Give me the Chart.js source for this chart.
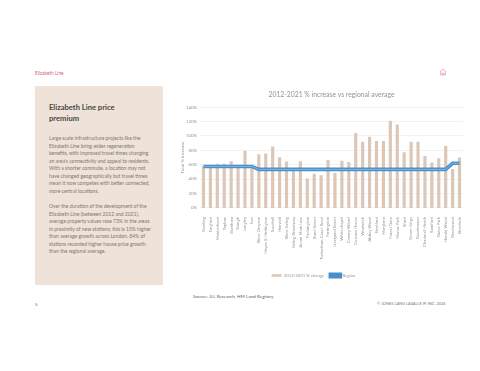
<!DOCTYPE html>
<html><head><meta charset="utf-8">
<script src="https://cdn.jsdelivr.net/npm/chart.js@4/dist/chart.umd.min.js"></script>
<style>
html,body{margin:0;padding:0;background:#fff;width:480px;height:371px;overflow:hidden;font-family:Lato,sans-serif}
#c{position:absolute;left:0;top:0;z-index:2}
.t{position:absolute;white-space:nowrap;color:#6a6a6a}
#panel{position:absolute;left:35px;top:86px;width:128px;height:199px;background:#efe2d8}
#h{left:49px;top:101.5px;font-size:7.6px;line-height:11.6px;font-weight:700;color:#474747}
.b{left:49px;font-size:5px;line-height:7.55px;color:#7d7772}
</style></head><body>
<div id="panel"></div>
<div class="t" style="left:35px;top:70px;font-size:4.7px;color:#e0607a">Elizabeth Line</div>
<div class="t" id="h">Elizabeth Line price<br>premium</div>
<div class="t b" style="top:135px">Large scale infrastructure projects like the<br>Elizabeth Line bring wider regeneration<br>benefits, with improved travel times changing<br>an area's connectivity and appeal to residents.<br>With a shorter commute, a location may not<br>have changed geographically but travel times<br>mean it now competes with better connected,<br>more central locations.</div>
<div class="t b" style="top:203px">Over the duration of the development of the<br>Elizabeth Line (between 2012 and 2021),<br>average property values rose 73% in the areas<br>in proximity of new stations; this is 15% higher<br>than average growth across London. 84% of<br>stations recorded higher house price growth<br>than the regional average.</div>
<div class="t" style="left:193px;top:293.3px;font-size:4.6px;color:#606060">Source: JLL Research, HM Land Registry</div>
<div class="t" style="left:35px;top:300.5px;font-size:4.6px;color:#666">5</div>
<div class="t" style="left:377px;top:301px;font-size:3.95px;color:#777">© JONES LANG LASALLE IP, INC. 2024</div>
<svg style="position:absolute;left:439px;top:68px" width="8" height="8" viewBox="0 0 8 8"><path d="M1 3.6L4 1l3 2.6M1.6 3.2V7h4.8V3.2M3.3 7V5h1.4v2" fill="none" stroke="#e8909f" stroke-width=".7"/></svg>
<canvas id="c" width="480" height="371"></canvas>
<script>
const categories=["Reading","Twyford","Maidenhead","Taplow","Burnham","Slough","Langley","Iver","West Drayton","Hayes & Harlington","Southall","Hanwell","West Ealing","Ealing Broadway","Acton Main Line","Paddington","Bond Street","Tottenham Court Road","Farringdon","Liverpool Street","Whitechapel","Canary Wharf","Custom House","Woolwich","Abbey Wood","Stratford","Maryland","Forest Gate","Manor Park","Ilford","Seven Kings","Goodmayes","Chadwell Heath","Romford","Gidea Park","Harold Wood","Brentwood","Shenfield"];
const changeValues=[58,55,61,61,64.5,59,79,56,74,75,85,70,64,51,64.5,40.5,47,45,66,48,65,63.5,103.5,91.5,98.5,92.5,92.5,120.5,115.5,77,91.5,91.5,71.5,62.5,68.5,85.5,53.5,69.5];
const regionValues=[57.6,57.6,57.6,57.6,57.6,57.6,57.6,57.6,53.5,53.5,53.5,53.5,53.5,53.5,53.5,53.5,53.5,53.5,53.5,53.5,53.5,53.5,53.5,53.5,53.5,53.5,53.5,53.5,53.5,53.5,53.5,53.5,53.5,53.5,53.5,53.5,62,62];
const yTicks=[0,20,40,60,80,100,120,140];
const grey="#969696", font="Lato,sans-serif";
new Chart(document.getElementById("c"),{
 data:{labels:categories,datasets:[
  {type:"line",label:"Region core",data:regionValues,borderColor:"rgba(150,200,235,.75)",borderWidth:.9,pointRadius:0,tension:0,order:0},
  {type:"line",label:"Region",data:regionValues,borderColor:"#4a8fca",backgroundColor:"#4a8fca",borderWidth:3.6,pointRadius:0,tension:0,order:1},
  {type:"bar",label:"2012-2021 % change",data:changeValues,backgroundColor:"#dcc6b6",borderWidth:0,barThickness:2.5,order:2}
 ]},
 options:{responsive:false,animation:false,
  layout:{padding:{left:164,right:17,top:91,bottom:83.3}},
  plugins:{
   title:{display:true,text:"2012-2021 % increase vs regional average",color:"#949494",fullSize:false,font:{family:font,size:6.8,weight:"normal"},padding:{top:0,bottom:8}},
   legend:{position:"bottom",labels:{filter:i=>i.text!=="Region core",sort:(a,b)=>a.text<b.text?-1:1,boxWidth:10,boxHeight:2.4,padding:6,color:grey,font:{family:font,size:4.3}}},
   tooltip:{enabled:false}
  },
  scales:{
   x:{grid:{display:false},border:{display:false},ticks:{autoSkip:false,maxRotation:90,minRotation:90,color:grey,font:{family:font,size:4.3},padding:1},afterFit(a){a.height=59.5}},
   y:{min:0,max:140,afterBuildTicks(a){a.ticks=yTicks.map(v=>({value:v}))},grid:{color:"#ededed",lineWidth:.7,drawTicks:false},border:{display:false},
      ticks:{color:grey,padding:3,font:{family:font,size:4.3},callback:v=>v+"%"},
      title:{display:true,text:"Total % Increase",color:grey,font:{family:font,size:4.5},padding:{top:16,bottom:0}},afterFit(a){a.width=36}}
  }
 }
});
</script>
</body></html>
